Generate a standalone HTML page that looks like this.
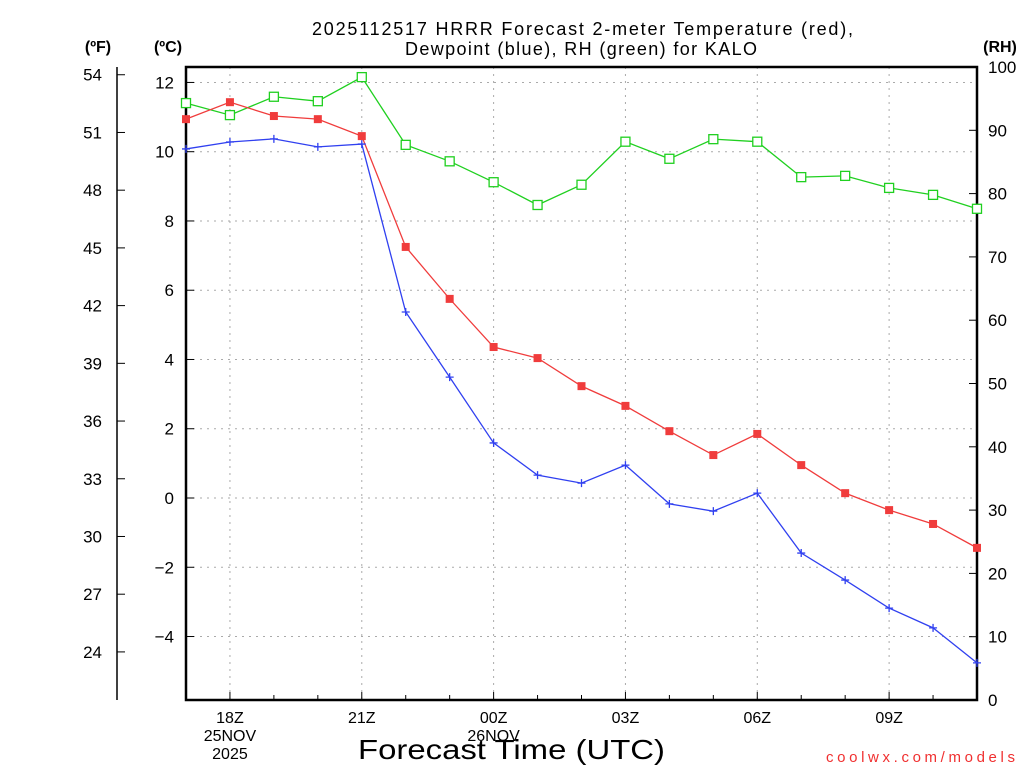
<!DOCTYPE html>
<html><head><meta charset="utf-8"><style>
html,body{margin:0;padding:0;background:#fff;}
svg{display:block;font-family:"Liberation Sans",sans-serif;}
</style></head><body>
<svg id="chart" width="1024" height="768" viewBox="0 0 1024 768" xmlns="http://www.w3.org/2000/svg">
<g id="grid"></g>
<g id="axes"></g>
<g id="series"></g>
<text x="312" y="35" textLength="541" lengthAdjust="spacing" font-size="18">2025112517 HRRR Forecast 2-meter Temperature (red),</text>
<text x="405" y="55" textLength="352" lengthAdjust="spacing" font-size="18">Dewpoint (blue), RH (green) for KALO</text>
<text x="98" y="52" text-anchor="middle" font-size="16" font-weight="bold">(ºF)</text>
<text x="168" y="52" text-anchor="middle" font-size="16" font-weight="bold">(ºC)</text>
<text x="1000" y="52" text-anchor="middle" font-size="16" font-weight="bold">(RH)</text>
<text x="358" y="759" textLength="307" lengthAdjust="spacingAndGlyphs" font-size="28">Forecast Time (UTC)</text>
<text x="826" y="762" textLength="189" lengthAdjust="spacing" font-size="15" fill="#f03030">coolwx.com/models</text>
</svg>
<script>
const hours = [17,18,19,20,21,22,23,24,25,26,27,28,29,30,31,32,33,34,35];
const tempC = [10.94,11.43,11.03,10.94,10.45,7.25,5.75,4.36,4.04,3.23,2.66,1.93,1.24,1.85,0.95,0.14,-0.35,-0.75,-1.44];
const dewC = [10.08,10.28,10.37,10.14,10.22,5.37,3.49,1.59,0.66,0.43,0.95,-0.17,-0.38,0.14,-1.59,-2.37,-3.18,-3.75,-4.76];
const rh = [94.3,92.4,95.3,94.6,98.4,87.7,85.1,81.8,78.2,81.4,88.2,85.5,88.6,88.2,82.6,82.8,80.9,79.8,77.6];
const cTicks = [12,10,8,6,4,2,0,-2,-4];
const fTicks = [54,51,48,45,42,39,36,33,30,27,24];
const rhTicks = [0,10,20,30,40,50,60,70,80,90,100];
const xTickHours = [18,21,24,27,30,33];
const xTickLabels = ["18Z","21Z","00Z","03Z","06Z","09Z"];

const NS="http://www.w3.org/2000/svg";
const L=186,R=977,T=67,B=700;
const xs=h=>L+(h-17)*(R-L)/18;
const yc=c=>498-c*34.63;
const yf=f=>yc((f-32)*5/9);
const yr=v=>B-v*(B-T)/100;
function mk(tag,attrs,parent,text){const e=document.createElementNS(NS,tag);for(const k in attrs)e.setAttribute(k,attrs[k]);if(text!==undefined)e.textContent=text;parent.appendChild(e);return e;}
const grid=document.getElementById('grid'),axes=document.getElementById('axes'),series=document.getElementById('series');

cTicks.forEach(c=>{const y=yc(c);
 const g=mk('line',{x1:L,x2:R,y1:y,y2:y,stroke:'#aaa','stroke-dasharray':'2,5'},grid);
 
 
 mk('line',{x1:L,x2:L+8,y1:y,y2:y,stroke:'#000'},axes);
 const t=mk('text',{x:174,y:y+6,'text-anchor':'end','font-size':'17'},axes,c<0?'\u2212'+(-c):String(c));
 
 
});
xTickHours.forEach((h,i)=>{const x=xs(h);
 const g=mk('line',{x1:x,x2:x,y1:T,y2:B,stroke:'#aaa','stroke-dasharray':'2,5'},grid);
 
 
 const t=mk('text',{x:x,y:723,'text-anchor':'middle','font-size':'16'},axes,xTickLabels[i]);
 
 
});
for(let h=17;h<=35;h++){const x=xs(h);mk('line',{x1:x,x2:x,y1:B,y2:B-(h%3===0?8:5),stroke:'#000'},axes);}
let t1=mk('text',{x:xs(18),y:741,'text-anchor':'middle','font-size':'16'},axes,'25NOV');


t1=mk('text',{x:xs(18),y:759,'text-anchor':'middle','font-size':'16'},axes,'2025');


t1=mk('text',{x:xs(24),y:741,'text-anchor':'middle','font-size':'16'},axes,'26NOV');



mk('line',{x1:117,x2:117,y1:T,y2:B,stroke:'#000','stroke-width':1.5},axes);
fTicks.forEach(f=>{const y=yf(f);
 mk('line',{x1:117,x2:125,y1:y,y2:y,stroke:'#000'},axes);
 const t=mk('text',{x:102,y:y+6,'text-anchor':'end','font-size':'17'},axes,String(f));
 
 
});
rhTicks.forEach(v=>{const y=yr(v);
 mk('line',{x1:R,x2:R-8,y1:y,y2:y,stroke:'#000'},axes);
 const t=mk('text',{x:988,y:y+6,'text-anchor':'start','font-size':'17'},axes,String(v));
 
 
});
const fr=mk('rect',{x:L,y:T,width:R-L,height:B-T,fill:'none',stroke:'#000','stroke-width':2.5},axes);



function line(vals,yfn,color,name){
 const p=mk('polyline',{points:vals.map((v,i)=>xs(hours[i])+','+yfn(v)).join(' '),fill:'none',stroke:color,'stroke-width':1.3},series);
 
 
}
line(rh,yr,'#20d020','rh');
line(dewC,yc,'#3040f0','dewpoint');
line(tempC,yc,'#f03c3c','temperature');
rh.forEach((v,i)=>{const m=mk('rect',{x:xs(hours[i])-4.5,y:yr(v)-4.5,width:9,height:9,fill:'#fff',stroke:'#20d020','stroke-width':1.3},series);
 
 });
dewC.forEach((v,i)=>{const x=xs(hours[i]),y=yc(v);const m=mk('path',{d:`M${x-4},${y}H${x+4}M${x},${y-4}V${y+4}`,stroke:'#3040f0','stroke-width':1.3},series);
 
 });
tempC.forEach((v,i)=>{const m=mk('rect',{x:xs(hours[i])-4,y:yc(v)-4,width:8,height:8,fill:'#f03c3c'},series);
 
 });
</script>
</body></html>
